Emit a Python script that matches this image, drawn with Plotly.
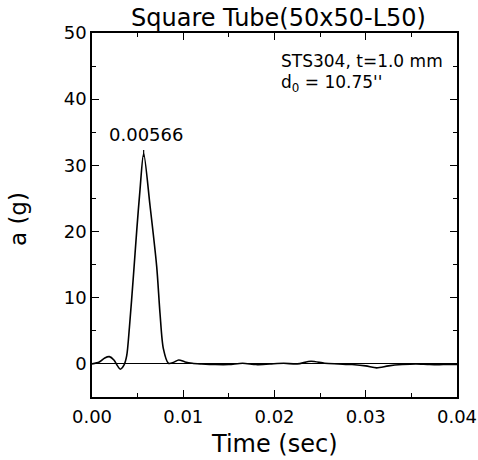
import plotly.graph_objects as go

time_s = [0.0, 0.0008, 0.0014, 0.0019, 0.0024, 0.0028, 0.0031, 0.0035, 0.0038, 0.0041,
          0.00455, 0.0049, 0.00526, 0.00566, 0.00636, 0.00709, 0.00745, 0.00782,
          0.00837, 0.0089, 0.0095, 0.0102, 0.0110, 0.0120, 0.0135, 0.0150, 0.0165,
          0.0180, 0.0195, 0.0210, 0.0225, 0.0240, 0.0255, 0.0270, 0.0285, 0.0300, 0.0312,
          0.0325, 0.0340, 0.0355, 0.0370, 0.0385, 0.0400]
accel_g = [0.0, 0.3, 0.9, 1.1, 0.6, -0.3, -0.8, -0.2, 1.2, 5.5,
           13.5, 20.1, 26.3, 31.8, 23.9, 14.7, 7.7, 2.3,
           0.1, 0.2, 0.6, 0.3, 0.1, 0.0, -0.1, -0.1, 0.1,
           -0.1, 0.0, 0.1, 0.0, 0.4, 0.1, 0.0, -0.1, -0.3, -0.6,
           -0.3, -0.1, 0.0, -0.1, -0.1, -0.1]

peak_time = [0.00566]
peak_accel = [31.8]
peak_label = "0.00566"

title_text = "Square Tube(50x50-L50)"
info_line1 = "STS304, t=1.0 mm"
info_line2 = "d<sub>0</sub> = 10.75''"
x_title = "Time (sec)"
y_title = "a (g)"

font_family = "DejaVu Sans, Liberation Sans, Arial, sans-serif"

fig = go.Figure()
fig.add_trace(go.Scatter(x=time_s, y=accel_g, mode="lines",
                         line=dict(color="black", width=1.6, shape="spline", smoothing=0.8),
                         showlegend=False, hoverinfo="skip"))
fig.add_trace(go.Scatter(x=peak_time, y=peak_accel, mode="markers",
                         marker=dict(symbol="line-ns", size=5,
                                     line=dict(color="black", width=1.2)),
                         showlegend=False, hoverinfo="skip"))

fig.add_annotation(x=0.00592, y=34.6, text=peak_label, showarrow=False,
                   xanchor="center", yanchor="middle", font=dict(size=18, color="black"))
fig.add_annotation(x=0.0206, y=45.7, text=info_line1, showarrow=False, borderpad=0,
                   xanchor="left", yanchor="middle", font=dict(size=17, color="black"))
fig.add_annotation(x=0.0206, y=42.4, text=info_line2, showarrow=False, borderpad=0,
                   xanchor="left", yanchor="middle", font=dict(size=17, color="black"))
fig.add_annotation(x=0.5096, y=1, xref="paper", yref="paper", text=title_text,
                   showarrow=False, xanchor="center", yanchor="bottom", yshift=-1,
                   font=dict(size=24, color="black"))
fig.add_annotation(x=0.5, y=-0.129, xref="paper", yref="paper", text=x_title,
                   showarrow=False, xanchor="center", yanchor="middle",
                   font=dict(size=24, color="black"))
fig.add_annotation(x=-0.2027, y=0.489, xref="paper", yref="paper", text=y_title,
                   showarrow=False, xanchor="center", yanchor="middle", textangle=-90,
                   font=dict(size=23, color="black"))

fig.update_layout(
    width=478, height=460,
    margin=dict(l=92, r=21, t=33, b=63),
    paper_bgcolor="white", plot_bgcolor="white",
    font=dict(family=font_family, color="black"),
)
fig.update_xaxes(range=[0, 0.04], tickvals=[0, 0.01, 0.02, 0.03, 0.04],
                 ticktext=["0.00", "0.01", "0.02", "0.03", "0.04"],
                 ticks="inside", ticklen=7, tickwidth=1.2, tickcolor="black",
                 minor=dict(tickvals=[0.005, 0.015, 0.025, 0.035], ticks="inside",
                            ticklen=4, tickcolor="black"),
                 showline=True, linecolor="black", linewidth=1.5, mirror="ticks",
                 showgrid=False, zeroline=False, automargin=False,
                 ticklabelstandoff=3, tickfont=dict(size=18))
fig.update_yaxes(range=[-5, 50], tickvals=[0, 10, 20, 30, 40, 50],
                 ticks="inside", ticklen=7, tickwidth=1.2, tickcolor="black",
                 minor=dict(tickvals=[5, 15, 25, 35, 45], ticks="inside",
                            ticklen=4, tickcolor="black"),
                 showline=True, linecolor="black", linewidth=1.5, mirror="ticks",
                 showgrid=False, zeroline=True, zerolinecolor="black", zerolinewidth=1.2,
                 automargin=False, tickfont=dict(size=18))

fig.write_html("out.html", config={"displayModeBar": False},
               post_script="document.body.style.margin='0px';")
